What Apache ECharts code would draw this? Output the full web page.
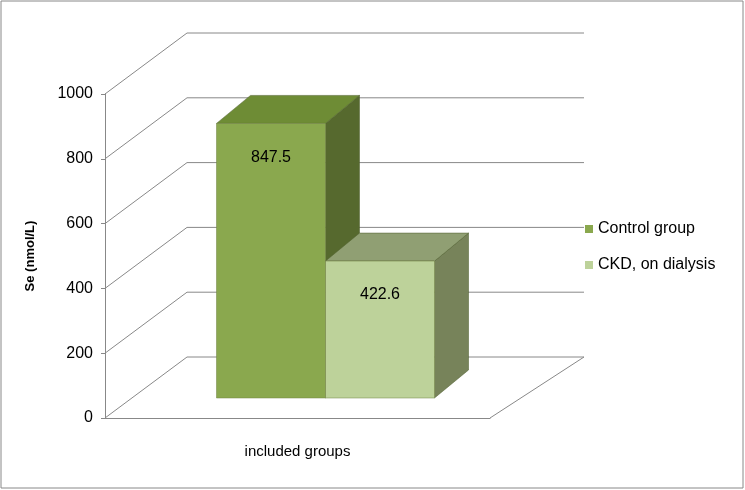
<!DOCTYPE html>
<html><head><meta charset="utf-8">
<script src="https://cdn.jsdelivr.net/npm/echarts@6/dist/echarts.min.js"></script>
<style>html,body{margin:0;padding:0;background:#fff}#c{width:745px;height:490px}</style>
</head><body><div id="c"></div>
<script>
const categories = ['included groups'];
const seriesNames = ['Control group', 'CKD, on dialysis'];
const controlValues = [847.5];
const ckdValues = [422.6];
const yTicks = [0, 200, 400, 600, 800, 1000];

const DX = 82, DY = -61;
const faces = [
  {front: '#8aa84e', top: '#6e8c35', side: '#56692e'},
  {front: '#bdd29a', top: '#909f73', side: '#77835a'}
];
function barRender(idx) {
  return function (params, api) {
    const c0 = api.coord([0, 0]);
    const cv = api.coord([0, api.value(1)]);
    const w = 109;
    const x = c0[0] - 81 + idx * w;
    const fy = -20;
    const yb = c0[1] + fy, yt = cv[1] + fy;
    const ddx = 34, ddy = -28;
    const f = faces[idx];
    return {type: 'group', children: [
      {type: 'polygon', shape: {points: [[x + w, yt], [x + w + ddx, yt + ddy], [x + w + ddx, yb + ddy], [x + w, yb]]}, style: {fill: f.side, stroke: '#4a5a28', lineWidth: 0.5}},
      {type: 'polygon', shape: {points: [[x, yt], [x + ddx, yt + ddy], [x + w + ddx, yt + ddy], [x + w, yt]]}, style: {fill: f.top, stroke: '#4a5a28', lineWidth: 0.5}},
      {type: 'rect', shape: {x: x, y: yt, width: w, height: yb - yt}, style: {fill: f.front, stroke: '#6e8040', lineWidth: 0.5}},
      {type: 'text', style: {text: String(api.value(1)), x: x + w / 2, y: yt + 34, align: 'center', verticalAlign: 'middle', font: '16px "Liberation Sans", Arial', fill: '#000'}}
    ]};
  };
}
function wallRender(params, api) {
  const v = api.value(0);
  const p = api.coord([0, v]);
  const x0 = 105, x1 = 490;
  const ch = [
    {type: 'line', shape: {x1: x0, y1: p[1], x2: x0 + DX, y2: p[1] + DY}, style: {stroke: '#888', lineWidth: 1}},
    {type: 'line', shape: {x1: x0 + DX, y1: p[1] + DY, x2: x1 + DX + 12, y2: p[1] + DY}, style: {stroke: '#888', lineWidth: 1}}
  ];
  if (v === 0) {
    ch.push({type: 'line', shape: {x1: x1, y1: p[1], x2: x1 + DX + 12, y2: p[1] + DY}, style: {stroke: '#888', lineWidth: 1}});
  }
  return {type: 'group', children: ch};
}
const chart = echarts.init(document.getElementById('c'));
chart.setOption({
  animation: false,
  graphic: [{type: 'rect', shape: {x: 1, y: 1, width: 742, height: 487}, style: {fill: 'none', stroke: '#888', lineWidth: 1}}],
  grid: {left: 105, right: 255, top: 94, bottom: 72},
  legend: {orient: 'vertical', left: 580, top: 216, itemGap: 20, itemWidth: 8, itemHeight: 8, icon: 'rect',
    textStyle: {fontSize: 16, fontFamily: 'Liberation Sans, Arial', color: '#000'},
    data: seriesNames},
  xAxis: {type: 'category', data: categories, axisTick: {show: false},
    axisLine: {lineStyle: {color: '#888'}},
    axisLabel: {fontSize: 15, color: '#000', margin: 26, fontFamily: 'Liberation Sans, Arial'}},
  yAxis: {type: 'value', min: 0, max: 1000, interval: 200, splitLine: {show: false},
    axisLine: {show: true, lineStyle: {color: '#888'}}, axisTick: {show: true, length: 4},
    name: 'Se (nmol/L)', nameLocation: 'middle', nameGap: 68,
    nameTextStyle: {fontWeight: 'bold', fontSize: 13, color: '#000', fontFamily: 'Liberation Sans, Arial'},
    axisLabel: {fontSize: 16, color: '#000', margin: 12, fontFamily: 'Liberation Sans, Arial', formatter: v => String(v)}},
  series: [
    {type: 'custom', name: '_walls', renderItem: wallRender, data: yTicks.map(v => [v]), silent: true, z: 1},
    {type: 'custom', name: seriesNames[0], renderItem: barRender(0), itemStyle: {color: faces[0].front}, data: controlValues.map((v, i) => [i, v]), z: 2},
    {type: 'custom', name: seriesNames[1], renderItem: barRender(1), itemStyle: {color: faces[1].front}, data: ckdValues.map((v, i) => [i, v]), z: 3}
  ]
});
</script></body></html>
